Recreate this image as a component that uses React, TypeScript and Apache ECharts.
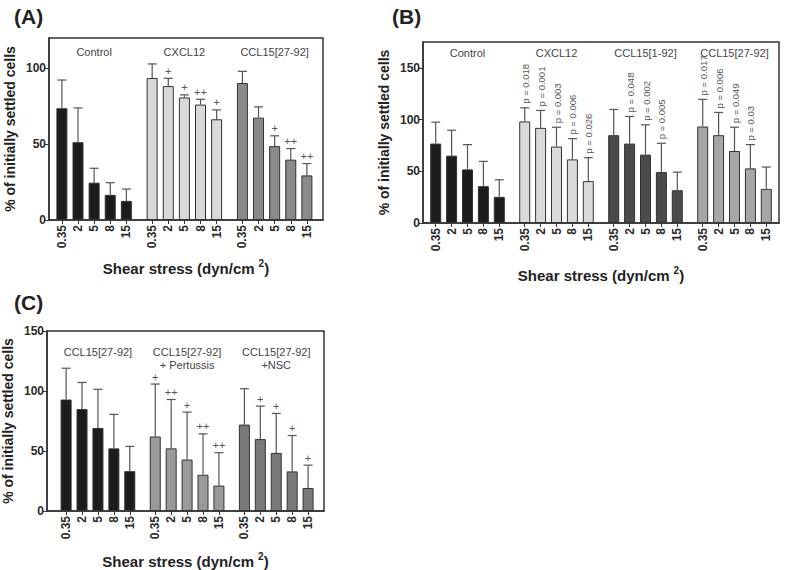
import React, { useEffect, useRef } from "react";
import * as echarts from "echarts";

// ---------- data ----------
const shearLabels = ["0.35", "2", "5", "8", "15"];

// Panel A
const groupsA = ["Control", "CXCL12", "CCL15[27-92]"];
const aControlMean = [73.7, 51.3, 24.6, 16.6, 12.6];
const aControlSd = [18.6, 22.6, 9.5, 8.0, 7.8];
const aCxcl12Mean = [93.6, 88.3, 80.8, 76.1, 66.4];
const aCxcl12Sd = [9.3, 5.1, 1.7, 3.5, 6.2];
const aCcl15Mean = [90.3, 67.5, 48.7, 39.8, 29.4];
const aCcl15Sd = [7.7, 7.1, 6.8, 7.3, 7.8];
const aControlMark = ["", "", "", "", ""];
const aCxcl12Mark = ["", "+", "+", "++", "+"];
const aCcl15Mark = ["", "", "+", "++", "++"];

// Panel B
const groupsB = ["Control", "CXCL12", "CCL15[1-92]", "CCL15[27-92]"];
const bControlMean = [76.8, 65.1, 51.8, 35.6, 25.3];
const bControlSd = [20.7, 24.6, 24.0, 24.0, 16.5];
const bCxcl12Mean = [98.2, 92.0, 73.9, 61.5, 40.5];
const bCxcl12Sd = [13.2, 16.8, 18.7, 20.1, 22.7];
const bCcl15FullMean = [84.9, 76.8, 66.1, 49.2, 31.7];
const bCcl15FullSd = [24.9, 26.2, 28.8, 27.9, 17.5];
const bCcl15TruncMean = [93.3, 84.9, 69.6, 52.8, 33.0];
const bCcl15TruncSd = [26.2, 22.0, 23.0, 23.0, 21.1];
const bControlP = ["", "", "", "", ""];
const bCxcl12P = ["p = 0.018", "p = 0.001", "p = 0.003", "p = 0.006", "p = 0.026"];
const bCcl15FullP = ["", "p = 0.048", "p = 0.002", "p = 0.005", ""];
const bCcl15TruncP = ["p = 0.017", "p = 0.006", "p = 0.049", "p = 0.03", ""];

// Panel C
const groupsC = ["CCL15[27-92]", "CCL15[27-92]\n+ Pertussis", "CCL15[27-92]\n+NSC"];
const cCcl15Mean = [92.9, 84.9, 69.2, 52.2, 33.2];
const cCcl15Sd = [26.1, 22.2, 32.2, 28.3, 20.6];
const cPertussisMean = [62.1, 52.2, 42.9, 30.2, 21.2];
const cPertussisSd = [43.7, 40.7, 39.5, 34.1, 27.4];
const cNscMean = [72.0, 59.9, 48.4, 33.0, 19.2];
const cNscSd = [29.9, 27.5, 32.9, 29.9, 19.0];
const cCcl15Mark = ["", "", "", "", ""];
const cPertussisMark = ["+", "++", "+", "++", "++"];
const cNscMark = ["", "+", "+", "+", "+"];

// ---------- styling / layout ----------
const FONT = "Arial, 'Liberation Sans', Helvetica, sans-serif";
const GROUP_STRIDE = 5.6;
const AXIS_COLOR = "#333";
const ERR_COLOR = "#555";

type PanelCfg = {
  idx: number;
  grid: { left: number; top: number; width: number; height: number };
  xMin: number;
  xMax: number;
  yMax: number;
  yTicks: number[];
  groups: string[];
  means: number[][];
  sds: number[][];
  marks: string[][];
  colors: string[];
  titleTop: number;
  xNameGap: number;
  rotatedMarks: boolean;
};

function buildPanel(c: PanelCfg) {
  const positions: number[] = [];
  const barData: any[] = [];
  const errData: number[][] = [];
  const markList: string[] = [];
  c.means.forEach((grp, g) => {
    grp.forEach((v, i) => {
      const x = +(g * GROUP_STRIDE + i).toFixed(2);
      positions.push(x);
      barData.push({
        value: [x, v],
        itemStyle: { color: c.colors[g], borderColor: AXIS_COLOR, borderWidth: 1 },
      });
      errData.push([x, v, v + c.sds[g][i]]);
      markList.push(c.marks[g][i]);
    });
  });
  const titleData = c.groups.map((_, g) => [g * GROUP_STRIDE + 2, c.titleTop]);

  const xAxis = {
    gridIndex: c.idx,
    type: "value",
    min: c.xMin,
    max: c.xMax,
    interval: 0.2,
    name: "{a|Shear stress (dyn/cm}{s|2}{a|)}",
    nameLocation: "middle",
    nameGap: c.xNameGap,
    nameTextStyle: {
      rich: {
        a: { fontSize: 15, fontWeight: "bold", color: "#222", fontFamily: FONT, verticalAlign: "bottom", lineHeight: 18 },
        s: { fontSize: 10, fontWeight: "bold", color: "#222", fontFamily: FONT, verticalAlign: "top", padding: [0, 0, 0, 4], lineHeight: 18 },
      },
    },
    axisLine: { show: true, onZero: false, lineStyle: { color: AXIS_COLOR, width: 1.5 } },
    axisTick: { show: true, length: 4, customValues: positions, lineStyle: { color: AXIS_COLOR } },
    axisLabel: {
      customValues: positions,
      rotate: 90,
      margin: 5,
      fontSize: 12,
      fontWeight: "bold",
      color: "#2a2a2a",
      fontFamily: FONT,
      formatter: (v: number) => {
        const k = positions.findIndex((p) => Math.abs(p - v) < 0.01);
        return k < 0 ? "" : shearLabels[k % 5];
      },
    },
    splitLine: { show: false },
  };

  const yAxis = {
    gridIndex: c.idx,
    type: "value",
    min: 0,
    max: c.yMax,
    interval: 50,
    name: "% of initially settled cells",
    nameLocation: "middle",
    nameGap: 32,
    nameTextStyle: { fontSize: 14, fontWeight: "bold", color: "#222", fontFamily: FONT },
    axisLine: { show: true, onZero: false, lineStyle: { color: AXIS_COLOR, width: 1.5 } },
    axisTick: { show: true, length: 4, customValues: c.yTicks, lineStyle: { color: AXIS_COLOR } },
    axisLabel: {
      customValues: c.yTicks,
      fontSize: 12,
      fontWeight: "bold",
      color: "#2a2a2a",
      fontFamily: FONT,
      margin: 3,
      formatter: (v: number) => (c.yTicks.indexOf(v) >= 0 ? String(v) : ""),
    },
    splitLine: { show: false },
  };

  const series = [
    {
      type: "bar",
      xAxisIndex: c.idx,
      yAxisIndex: c.idx,
      barWidth: 11,
      data: barData,
      z: 2,
    },
    {
      type: "custom",
      xAxisIndex: c.idx,
      yAxisIndex: c.idx,
      z: 3,
      clip: false,
      data: errData,
      encode: { x: 0, y: [1, 2] },
      renderItem: (params: any, api: any) => {
        const x = api.value(0);
        const p0 = api.coord([x, api.value(1)]);
        const p1 = api.coord([x, api.value(2)]);
        const children: any[] = [
          { type: "line", shape: { x1: p0[0], y1: p0[1], x2: p1[0], y2: p1[1] }, style: { stroke: ERR_COLOR, lineWidth: 1.2 } },
          { type: "line", shape: { x1: p1[0] - 4.5, y1: p1[1], x2: p1[0] + 4.5, y2: p1[1] }, style: { stroke: ERR_COLOR, lineWidth: 1.2 } },
        ];
        const m = markList[params.dataIndex];
        if (m) {
          if (c.rotatedMarks) {
            children.push({
              type: "text",
              x: p1[0] + 0.5,
              y: p1[1] - 4,
              rotation: Math.PI / 2,
              style: {
                text: m,
                font: `normal 9.5px ${FONT}`,
                fontSize: 9.5,
                fontFamily: FONT,
                fill: "#555",
                align: "left",
                verticalAlign: "middle",
              },
            });
          } else {
            children.push({
              type: "text",
              x: p1[0],
              y: p1[1] - 2,
              style: {
                text: m,
                font: `normal 11px ${FONT}`,
                fontSize: 11,
                fontFamily: FONT,
                fill: "#555",
                align: "center",
                verticalAlign: "bottom",
              },
            });
          }
        }
        return { type: "group", children };
      },
    },
    {
      type: "custom",
      xAxisIndex: c.idx,
      yAxisIndex: c.idx,
      z: 4,
      clip: false,
      data: titleData,
      renderItem: (params: any, api: any) => {
        const p = api.coord([api.value(0), api.value(1)]);
        return {
          type: "text",
          x: p[0],
          y: p[1],
          style: {
            text: c.groups[params.dataIndex],
            font: `normal 11px ${FONT}`,
            fontSize: 11,
            fontFamily: FONT,
            lineHeight: 13,
            fill: "#444",
            align: "center",
            verticalAlign: "top",
          },
        };
      },
    },
  ];

  return {
    grid: { ...c.grid, show: true, borderColor: AXIS_COLOR, borderWidth: 1.5, backgroundColor: "transparent" },
    xAxis,
    yAxis,
    series,
  };
}

export default function App() {
  const ref = useRef<HTMLDivElement>(null);

  useEffect(() => {
    if (!ref.current) return;
    const chart = echarts.init(ref.current, undefined, { renderer: "svg" });

    const panels = [
      buildPanel({
        idx: 0,
        grid: { left: 49, top: 38, width: 274, height: 182 },
        xMin: -0.8,
        xMax: 16.2,
        yMax: 120,
        yTicks: [0, 50, 100],
        groups: groupsA,
        means: [aControlMean, aCxcl12Mean, aCcl15Mean],
        sds: [aControlSd, aCxcl12Sd, aCcl15Sd],
        marks: [aControlMark, aCxcl12Mark, aCcl15Mark],
        colors: ["#1c1c1c", "#d9d9d9", "#8a8a8a"],
        titleTop: 115,
        xNameGap: 38,
        rotatedMarks: false,
      }),
      buildPanel({
        idx: 1,
        grid: { left: 423, top: 42, width: 356, height: 181 },
        xMin: -0.8,
        xMax: 21.6,
        yMax: 175,
        yTicks: [0, 50, 100, 150],
        groups: groupsB,
        means: [bControlMean, bCxcl12Mean, bCcl15FullMean, bCcl15TruncMean],
        sds: [bControlSd, bCxcl12Sd, bCcl15FullSd, bCcl15TruncSd],
        marks: [bControlP, bCxcl12P, bCcl15FullP, bCcl15TruncP],
        colors: ["#1c1c1c", "#d9d9d9", "#4a4a4a", "#a6a6a6"],
        titleTop: 171,
        xNameGap: 42,
        rotatedMarks: true,
      }),
      buildPanel({
        idx: 2,
        grid: { left: 43, top: 331, width: 281, height: 182 },
        xMin: -1.2,
        xMax: 16.2,
        yMax: 150,
        yTicks: [0, 50, 100, 150],
        groups: groupsC,
        means: [cCcl15Mean, cPertussisMean, cNscMean],
        sds: [cCcl15Sd, cPertussisSd, cNscSd],
        marks: [cCcl15Mark, cPertussisMark, cNscMark],
        colors: ["#1c1c1c", "#9a9a9a", "#7a7a7a"],
        titleTop: 138,
        xNameGap: 40,
        rotatedMarks: false,
      }),
    ];

    const titleStyle = { fontSize: 21, fontWeight: "bold", color: "#222", fontFamily: FONT };
    chart.setOption({
      animation: false,
      backgroundColor: "#fff",
      textStyle: { fontFamily: FONT },
      title: [
        { text: "(A)", left: 14, top: 6, padding: 0, textStyle: titleStyle },
        { text: "(B)", left: 392, top: 6, padding: 0, textStyle: titleStyle },
        { text: "(C)", left: 14, top: 292, padding: 0, textStyle: titleStyle },
      ],
      grid: panels.map((p) => p.grid),
      xAxis: panels.map((p) => p.xAxis),
      yAxis: panels.map((p) => p.yAxis),
      series: panels.flatMap((p) => p.series),
    });

    return () => chart.dispose();
  }, []);

  return (
    <div
      ref={ref}
      style={{ position: "fixed", left: 0, top: 0, width: 785, height: 570, background: "#fff" }}
    />
  );
}
